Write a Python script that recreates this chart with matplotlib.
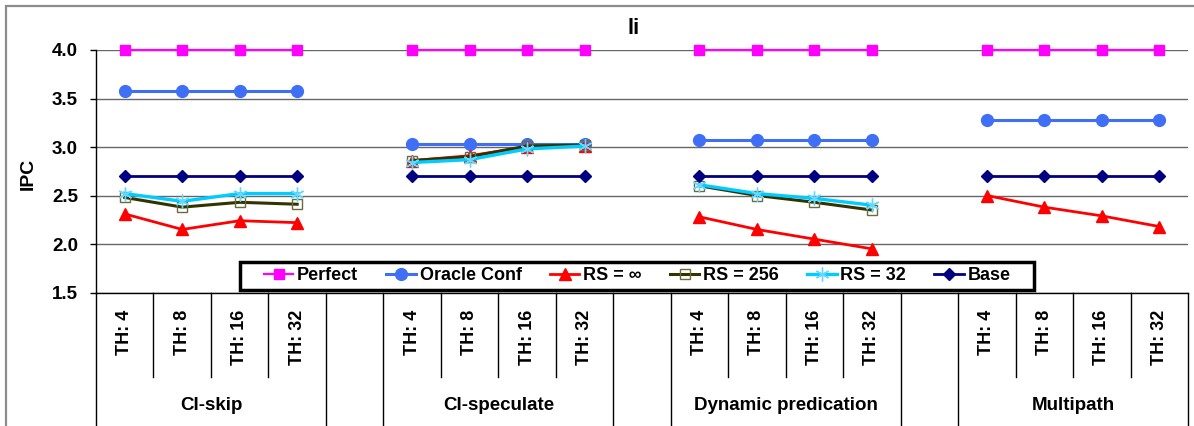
import numpy as np
import matplotlib
matplotlib.use("Agg")
import matplotlib.pyplot as plt
import matplotlib.transforms as mtransforms
from matplotlib.patches import Rectangle

plt.rcParams['font.family'] = ['Liberation Sans', 'DejaVu Sans']
plt.rcParams['font.weight'] = 'bold'

# ---- data -------------------------------------------------------------
title = "li"
groups = ["CI-skip", "CI-speculate", "Dynamic predication", "Multipath"]
thresholds = ["TH: 4", "TH: 8", "TH: 16", "TH: 32"]
y_ticks = [1.5, 2.0, 2.5, 3.0, 3.5, 4.0]

# one list of 4 threshold values per group (None = not measured)
perfect = [[4.00, 4.00, 4.00, 4.00], [4.00, 4.00, 4.00, 4.00],
           [4.00, 4.00, 4.00, 4.00], [4.00, 4.00, 4.00, 4.00]]
oracle_conf = [[3.58, 3.58, 3.58, 3.58], [3.03, 3.03, 3.03, 3.03],
               [3.07, 3.07, 3.07, 3.07], [3.28, 3.28, 3.28, 3.28]]
rs_inf = [[2.31, 2.15, 2.24, 2.22], [2.86, 2.91, 3.00, 3.01],
          [2.28, 2.15, 2.05, 1.95], [2.50, 2.38, 2.29, 2.18]]
rs_256 = [[2.48, 2.38, 2.43, 2.41], [2.86, 2.90, 3.01, 3.02],
          [2.60, 2.50, 2.43, 2.35], [None, None, None, None]]
rs_32 = [[2.52, 2.44, 2.52, 2.52], [2.84, 2.87, 2.98, 3.01],
         [2.61, 2.52, 2.47, 2.40], [None, None, None, None]]
base = [[2.70, 2.70, 2.70, 2.70], [2.70, 2.70, 2.70, 2.70],
        [2.70, 2.70, 2.70, 2.70], [2.70, 2.70, 2.70, 2.70]]

series = [
    ("Perfect", perfect, dict(color="#FF00FF", marker="s", ms=7.5, lw=1.6)),
    ("Oracle Conf", oracle_conf, dict(color="#3F6FF5", marker="o", ms=8.5, lw=2.2)),
    ("RS = \u221e", rs_inf, dict(color="#FF0000", marker="^", ms=8, lw=2.0)),
    ("RS = 256", rs_256, dict(color="#333300", marker="s", ms=7, lw=2.2,
                              mfc="none", mec="#6B6B3A", mew=1.0)),
    ("RS = 32", rs_32, dict(color="#00CCFF", marker=(6, 2, 0), ms=10, lw=2.4,
                            mec="#66D9FF", mew=1.0)),
    ("Base", base, dict(color="#000080", marker="D", ms=6.5, lw=2.0)),
]

# ---- layout helpers ---------------------------------------------------
n_groups = len(groups)
per_group = len(thresholds)
slot = per_group + 1          # one blank category between groups
n_cat = n_groups * per_group + (n_groups - 1)


def spread(values):
    """Place grouped values on the category axis, leaving gaps blank."""
    out = np.full(n_cat, np.nan)
    for g, vals in enumerate(values):
        for k, v in enumerate(vals):
            if v is not None:
                out[g * slot + k] = v
    return out


W, H = 1194, 426
fig = plt.figure(figsize=(W / 100, H / 100), dpi=100)
fig.patch.set_facecolor("white")

ax_left, ax_right, ax_top, ax_bot = 96, 1188, 50, 292.5
ax = fig.add_axes([ax_left / W, 1 - ax_bot / H,
                   (ax_right - ax_left) / W, (ax_bot - ax_top) / H])

x = np.arange(n_cat)
handles = []
for label, vals, style in series:
    h, = ax.plot(x, spread(vals), label=label, clip_on=False, zorder=3, **style)
    handles.append(h)

ax.set_xlim(-0.5, n_cat - 0.5)
ax.set_ylim(1.5, 4.0)
ax.set_yticks(y_ticks)
ax.set_yticklabels([f"{v:.1f}" for v in y_ticks], fontsize=13.5, fontweight="bold")
ax.tick_params(axis="y", direction="out", length=4.5, width=1, pad=8.5)
ax.set_xticks([])
ax.yaxis.grid(True, color="#666666", lw=1.0)
ax.set_axisbelow(True)
for s in ("top", "right"):
    ax.spines[s].set_visible(False)
for s in ("left", "bottom"):
    ax.spines[s].set_linewidth(1.0)
    ax.spines[s].set_color("black")

# category boundaries below the axis, longer ones at group edges
trans = mtransforms.blended_transform_factory(ax.transData, ax.transAxes)
ax_h = ax_bot - ax_top
short_end = -(377 - ax_bot) / ax_h
long_end = -(440 - ax_bot) / ax_h
for b in range(n_cat + 1):
    pos_in_slot = b % slot
    is_long = pos_in_slot == 0 or pos_in_slot == per_group or b == n_cat
    yend = long_end if is_long else short_end
    ax.plot([b - 0.5, b - 0.5], [0, yend], color="black", lw=1.0,
            transform=trans, clip_on=False, zorder=2)

# threshold and group labels
th_y = -(310 - ax_bot) / ax_h
grp_y = -(405 - ax_bot) / ax_h
for g, name in enumerate(groups):
    for k, th in enumerate(thresholds):
        ax.text(g * slot + k, th_y, th, rotation=90, ha="center", va="top",
                fontsize=13, fontweight="bold", transform=trans)
    ax.text(g * slot + (per_group - 1) / 2, grp_y, name, ha="center",
            va="center", fontsize=13.5, fontweight="bold", transform=trans)

fig.text(28 / W, 1 - 174 / H, "IPC", rotation=90, ha="center", va="center",
         fontsize=14, fontweight="bold")
fig.text(634 / W, 1 - 28.5 / H, title, ha="center", va="center",
         fontsize=16, fontweight="bold")

# legend box: white panel with a heavy black border, entries centred inside
box_l, box_r, box_t, box_b = 240, 1034, 262, 290
fig.patches.append(Rectangle((box_l / W, 1 - box_b / H), (box_r - box_l) / W,
                             (box_b - box_t) / H, transform=fig.transFigure,
                             facecolor="white", edgecolor="black", lw=2.5,
                             zorder=4))
leg = fig.legend(handles, [h.get_label() for h in handles], loc="center",
                 bbox_to_anchor=((box_l + box_r) / 2 / W,
                                 1 - (box_t + box_b) / 2 / H),
                 ncol=6, frameon=False, handlelength=1.65, handletextpad=0.2,
                 columnspacing=1.55, borderpad=0.2, numpoints=1,
                 prop={"weight": "bold", "size": 13})
leg.set_zorder(5)

# chart-area border
fig.patches.append(Rectangle((5.5 / W, -0.1), 1.1, 1 - 5.5 / H + 0.1,
                             transform=fig.transFigure, fill=False,
                             edgecolor="#8c8c8c", lw=1.6))

fig.savefig("out.png", dpi=100)
